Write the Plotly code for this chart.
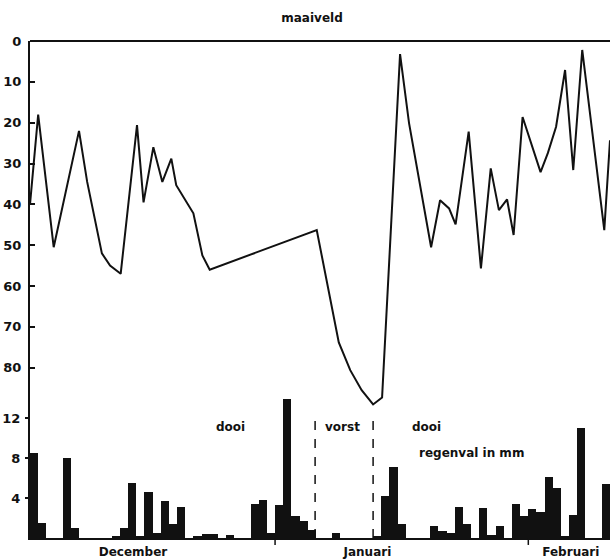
import plotly.graph_objects as go

# Daily rainfall (mm), one value per day from early December to February
rain_mm = [8.5, 1.5, 0, 0, 8.0, 1.0, 0, 0, 0, 0,
           0.2, 1.0, 5.5, 0.2, 4.6, 0.5, 3.7, 1.4, 3.1, 0,
           0.2, 0.4, 0.4, 0, 0.3, 0, 0, 3.4, 3.8, 0.5,
           3.3, 13.9, 2.2, 1.7, 0.8, 0, 0, 0.5, 0, 0,
           0, 0, 0.2, 4.2, 7.1, 1.4, 0, 0, 0, 1.2,
           0.7, 0.5, 3.1, 1.4, 0, 3.0, 0.3, 1.2, 0, 3.4,
           2.2, 2.9, 2.6, 6.1, 5.0, 0.2, 2.3, 11.0, 0, 0,
           5.4]
rain_day = [i + 0.5 for i in range(len(rain_mm))]

# Groundwater depth below surface (cm), measurement day and value
depth_day = [0.0, 1.0, 2.9, 6.0, 7.0, 8.0, 8.8, 9.8, 11.1, 13.1,
             13.9, 15.1, 16.2, 17.3, 17.9, 20.0, 21.1, 22.0, 35.1, 37.8,
             39.2, 40.6, 42.0, 43.1, 45.3, 46.4, 49.1, 50.2, 51.3, 52.1,
             53.7, 55.2, 56.4, 57.4, 58.4, 59.2, 60.3, 62.5, 63.4, 64.4,
             65.5, 66.5, 67.6, 70.3, 71.0]
depth_cm = [40, 18, 50.5, 22, 34.5, 44, 52, 55, 57, 20.6,
            39.5, 26, 34.5, 28.8, 35.3, 42.2, 52.5, 56, 46.3, 73.8,
            80.6, 85.5, 89, 87.3, 3.2, 20.1, 50.5, 39, 41, 44.9,
            22.2, 55.7, 31.2, 41.4, 38.8, 47.5, 18.6, 32.1, 27.4, 21,
            7.1, 31.6, 2.2, 46.3, 24.3]

depth_ticks = [0, 10, 20, 30, 40, 50, 60, 70, 80]
rain_ticks = [4, 8, 12]
month_pos = [12.6, 41.3, 66.2]
month_names = ["December", "Januari", "Februari"]
month_bounds = [30, 61]
frost_bounds = [34.9, 42.0]

FONT = "DejaVu Sans"
INK = "#111111"

fig = go.Figure()

fig.add_trace(go.Bar(
    x=rain_day, y=rain_mm, width=1.0, yaxis="y2",
    marker=dict(color=INK, line=dict(width=0)), showlegend=False,
))
fig.add_trace(go.Scatter(
    x=depth_day, y=depth_cm, mode="lines", yaxis="y",
    line=dict(color=INK, width=2), showlegend=False,
))

shapes = []
for xb in frost_bounds:
    shapes.append(dict(type="line", xref="x", yref="y2", x0=xb, x1=xb, y0=0, y1=12.3,
                       line=dict(color=INK, width=1.5, dash="dash")))
for xb in month_bounds:
    shapes.append(dict(type="line", xref="x", yref="paper", x0=xb, x1=xb, y0=-0.014, y1=0,
                       line=dict(color=INK, width=1.5)))
# top border
shapes.append(dict(type="line", xref="paper", yref="paper", x0=0, x1=1, y0=1, y1=1,
                   line=dict(color=INK, width=2)))

annotations = [
    dict(x=24.5, y=11.1, xref="x", yref="y2", text="dooi", showarrow=False),
    dict(x=38.3, y=11.1, xref="x", yref="y2", text="vorst", showarrow=False),
    dict(x=48.5, y=11.1, xref="x", yref="y2", text="dooi", showarrow=False),
    dict(x=54.1, y=8.5, xref="x", yref="y2", text="regenval in mm", showarrow=False),
]
for a in annotations:
    a["font"] = dict(family=FONT, size=12, color=INK, weight="bold")

fig.update_layout(
    width=610, height=559,
    margin=dict(l=30, r=0, t=41, b=21),
    paper_bgcolor="white", plot_bgcolor="white",
    font=dict(family=FONT, size=12, color=INK, weight="bold"),
    title=dict(text="maaiveld", x=312 / 610, xanchor="center", y=1 - 18 / 559,
               yanchor="middle", font=dict(family=FONT, size=12, color=INK, weight="bold")),
    bargap=0,
    shapes=shapes,
    annotations=annotations,
    xaxis=dict(range=[0, 71], showgrid=False, zeroline=False,
               showline=True, linecolor=INK, linewidth=1.5,
               tickvals=month_pos, ticktext=month_names, ticks="",
               ticklabelstandoff=2),
    yaxis=dict(range=[121.7, 0], showgrid=False, zeroline=False,
               showline=True, linecolor=INK, linewidth=2,
               tickvals=depth_ticks, ticktext=[str(v) for v in depth_ticks],
               ticks="inside", ticklen=5, tickwidth=1.5, tickcolor=INK,
               tickfont=dict(size=13), ticklabelstandoff=4),
    yaxis2=dict(range=[0, 49.7], overlaying="y", side="left", anchor="x",
                showgrid=False, zeroline=False, showline=False,
                tickvals=rain_ticks, ticktext=[str(v) for v in rain_ticks],
                ticks="outside", ticklen=4, tickwidth=1.5, tickcolor=INK,
                tickfont=dict(size=13), ticklabelstandoff=2),
)

fig.write_html("out.html")
